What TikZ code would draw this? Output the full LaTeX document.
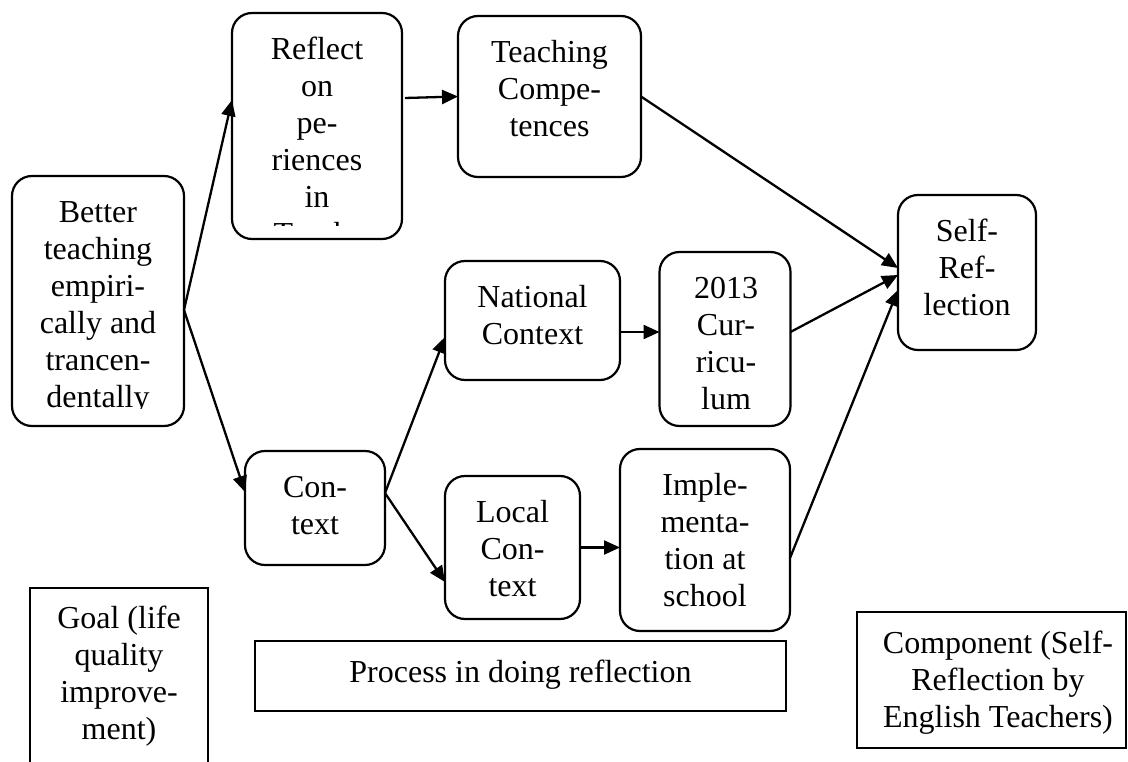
\documentclass[tikz,border=0pt]{standalone}
\usepackage{fontspec}
\setmainfont{Liberation Serif}
\usetikzlibrary{arrows.meta}
\begin{document}
\begin{tikzpicture}[x=1pt,y=-1pt,
  rbox/.style={draw, line width=2.2pt, rounded corners=20pt, inner sep=0pt, outer sep=0pt},
  sbox/.style={draw, line width=2.6pt, inner sep=0pt, outer sep=0pt},
  txt/.style={anchor=north, align=center, inner sep=0pt, font=\fontsize{32}{37}\selectfont},
  arr/.style={line width=2.3pt, -{Triangle[length=16pt,width=14pt]}}
]
\useasboundingbox (0,0) rectangle (1128,762);
\clip (0,0) rectangle (1128,762);

% rounded boxes
\node[rbox, minimum width=172pt, minimum height=250pt] (better) at (98,301) {};
\node[rbox, minimum width=170pt, minimum height=226pt] (reflect) at (317,126) {};
\node[rbox, minimum width=183pt, minimum height=161pt] (teach) at (549.5,96.5) {};
\node[rbox, minimum width=138pt, minimum height=155pt] (self) at (967,272.5) {};
\node[rbox, minimum width=175pt, minimum height=119pt] (national) at (532.5,320.5) {};
\node[rbox, minimum width=131pt, minimum height=174pt] (curr) at (725,339) {};
\node[rbox, minimum width=140pt, minimum height=114pt] (context) at (315,508) {};
\node[rbox, minimum width=135pt, minimum height=143pt] (local) at (512.5,547.5) {};
\node[rbox, minimum width=170pt, minimum height=182pt] (impl) at (705,540) {};

% texts
\begin{scope}
  \clip (12,176) rectangle (184,408);
  \node[txt] (betterT) at (98,196) {\strut Better\\teaching\\empiri-\\cally and\\trancen-\\dentally};
\end{scope}
\begin{scope}
  \clip (232,13) rectangle (402,226);
  \node[txt] (reflectT) at (317,33) {\strut Reflect\\on\\pe-\\riences\\in\\Teach-};
\end{scope}
\node[txt] (teachT) at (549.5,36) {\strut Teaching\\Compe-\\tences};
\node[txt] (selfT) at (967,215) {\strut Self-\\Ref-\\lection};
\node[txt] (nationalT) at (532.5,281) {\strut National\\Context};
\node[txt] (currT) at (726,272) {\strut 2013\\Cur-\\ricu-\\lum};
\node[txt] (contextT) at (315,471) {\strut Con-\\text};
\node[txt] (localT) at (512.5,496) {\strut Local\\Con-\\text};
\node[txt] (implT) at (705,469) {\strut Imple-\\menta-\\tion at\\school};

% square boxes
\node[sbox, minimum width=178pt, minimum height=220pt] (goal) at (119,698) {};
\node[txt] (goalT) at (119,602) {\strut Goal (life\\quality\\improve-\\ment)};
\node[sbox, minimum width=531pt, minimum height=70pt] (process) at (520.5,676) {};
\node[txt] (processT) at (520.5,656) {\strut Process in doing reflection};
\node[sbox, minimum width=269pt, minimum height=136pt] (component) at (991.5,680) {};
\node[txt] (componentT) at (998,627) {\strut Component (Self-\\Reflection by\\English Teachers)};

% connectors
\draw[arr] ([yshift=-9pt]better.east) -- ([yshift=26pt]reflect.west);
\draw[arr] ([yshift=-9pt]better.east) -- ([yshift=16pt]context.west);
\draw[arr] ([xshift=3pt,yshift=28pt]reflect.east) -- (teach.west);
\draw[arr] (teach.east) -- ([yshift=4.5pt]self.west);
\draw[arr] ([yshift=15pt]context.east) -- ([yshift=-16.5pt]national.west);
\draw[arr] ([yshift=15pt]context.east) -- ([yshift=-34.5pt]local.west);
\draw[arr] ([yshift=-11.5pt]national.east) -- ([yshift=-11.5pt]national.east -| curr.west);
\draw[arr] (local.east) -- (local.east -| impl.west);
\draw[arr] ([yshift=7pt]curr.east) -- ([yshift=-2.5pt]self.west);
\draw[arr] ([yshift=-18pt]impl.east) -- ([yshift=-17.5pt]self.west);
\end{tikzpicture}
\end{document}
